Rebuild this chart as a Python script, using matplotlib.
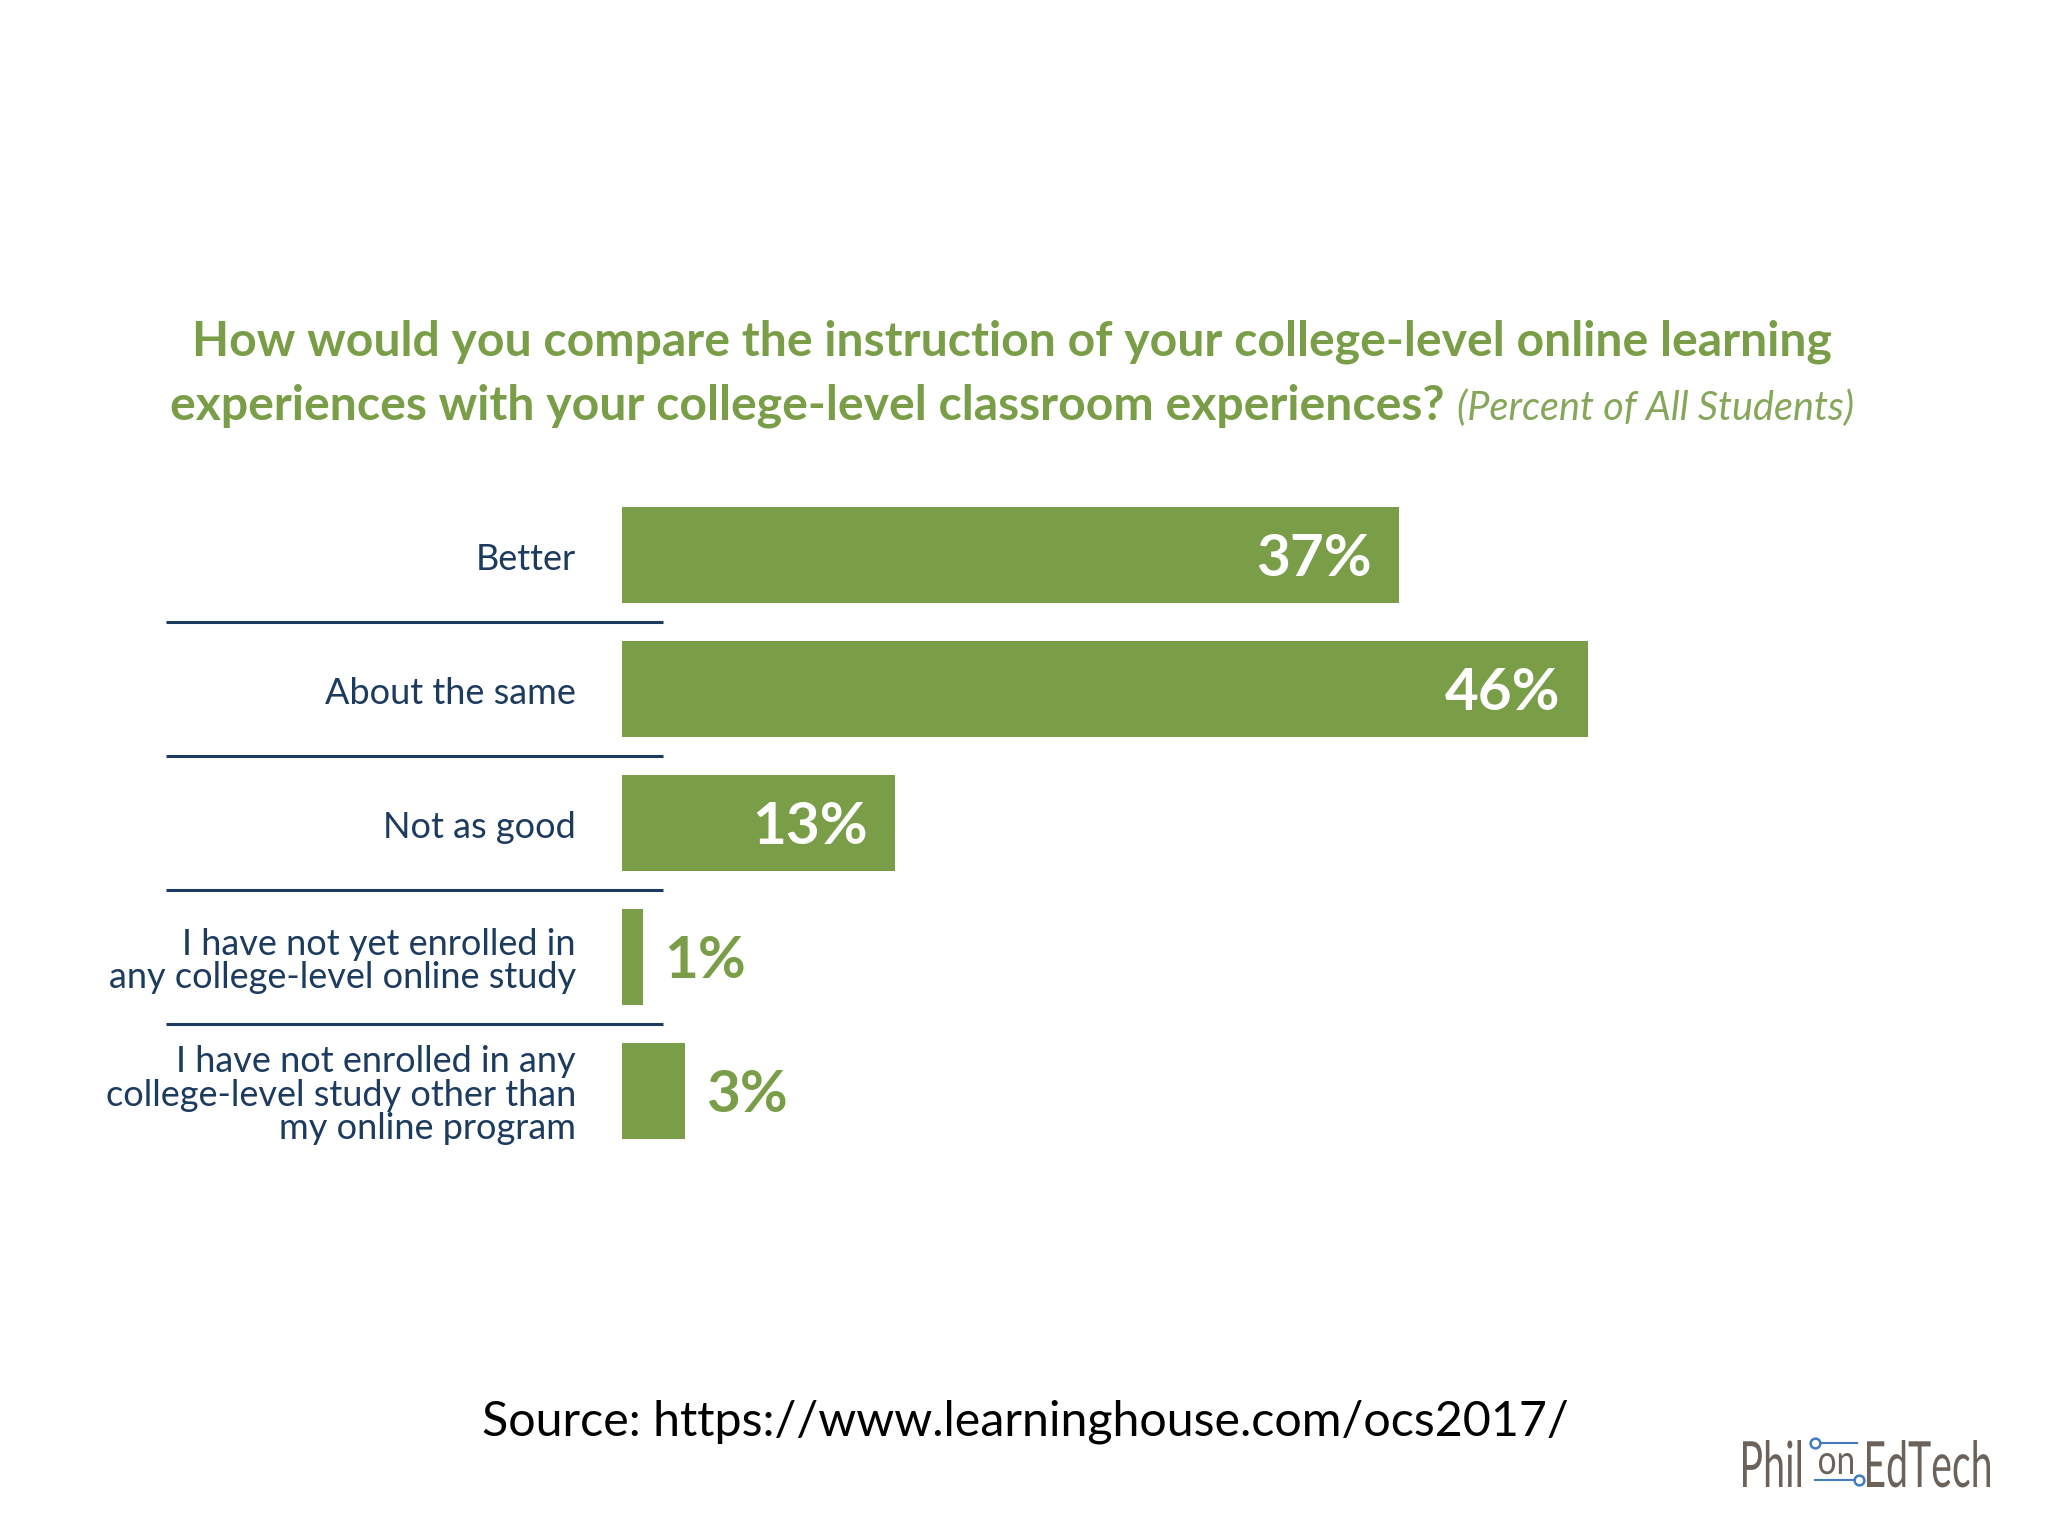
import matplotlib.pyplot as plt
from matplotlib.lines import Line2D
from matplotlib.textpath import TextPath
from matplotlib.patches import PathPatch
from matplotlib.font_manager import FontProperties
from matplotlib.transforms import Affine2D, IdentityTransform

## DATA ##
categories = [
    "Better",
    "About the same",
    "Not as good",
    "I have not yet enrolled in\nany college-level online study",
    "I have not enrolled in any\ncollege-level study other than\nmy online program",
]
values = [37, 46, 13, 1, 3]
value_labels = ["37%", "46%", "13%", "1%", "3%"]

title_line1 = "How would you compare the instruction of your college-level online learning"
title_line2 = "experiences with your college-level classroom experiences?"
title_note = "(Percent of All Students)"
source_text = "Source: https://www.learninghouse.com/ocs2017/"

GREEN = "#7a9e47"
NAVY = "#1c3b5e"
W, H = 2048, 1536

plt.rcParams['font.family'] = ['Lato', 'DejaVu Sans']

fig = plt.figure(figsize=(W / 100, H / 100), dpi=100)
fig.patch.set_facecolor("white")


def fx(px):
    return px / W


def fy(py):
    return 1 - py / H


# axes: x in percent (21 px per %), y = category index (134 px spacing)
ax = fig.add_axes([fx(622), fy(1158), 1050 / W, 670 / H])
ax.set_xlim(0, 50)
ax.set_ylim(4.5, -0.5)
ax.axis("off")

ypos = list(range(len(categories)))
ax.barh(ypos, values, height=0.71, color=GREEN)

for i, (v, lab) in enumerate(zip(values, value_labels)):
    if v >= 10:
        ax.text(v - 1.3, i + 0.03, lab, ha="right", va="center", color="white",
                fontsize=42, fontweight="bold")
    else:
        ax.text(v + 1.0, i + 0.03, lab, ha="left", va="center", color=GREEN,
                fontsize=42, fontweight="bold")
    ax.text(-2.2, i + 0.03, categories[i], ha="right", va="center", color=NAVY,
            fontsize=26, linespacing=1.03, clip_on=False)

# separators
for i in range(len(categories) - 1):
    ax.plot([-21.7, 1.95], [i + 0.5, i + 0.5], color=NAVY, lw=2.2,
            clip_on=False, solid_capstyle="butt")

# title
fig.text(fx(1012), fy(342), title_line1, ha="center", va="center",
         color=GREEN, fontsize=34.7, fontweight="bold")
fig.canvas.draw()
r = fig.canvas.get_renderer()
t2 = fig.text(0, fy(406), title_line2, ha="left", va="center",
              color=GREEN, fontsize=34.7, fontweight="bold")
t3 = fig.text(0, fy(408), title_note, ha="left", va="center",
              color="#86a65a", fontsize=28.5, style="italic")
w2 = t2.get_window_extent(r).width
w3 = t3.get_window_extent(r).width
gap = 12
start = 1012 - (w2 + gap + w3) / 2
t2.set_x(fx(start))
t3.set_x(fx(start + w2 + gap))

# source
fig.text(fx(1025), fy(1422), source_text, ha="center", va="center",
         color="black", fontsize=34.8)

# logo (condensed text drawn as squeezed paths, pixel coords)
LOGO = "#6b635b"
BLUE = "#3f7cc0"
logo_font = FontProperties(family="Lato")


def squeezed(text, x0, x1, base, top):
    path = TextPath((0, 0), text, size=1, prop=logo_font)
    bb = path.get_extents()
    sx = (x1 - x0) / bb.width
    sy = (base - top) / bb.y1
    tr = Affine2D().translate(-bb.x0, 0).scale(sx, sy).translate(x0, H - base)
    fig.add_artist(PathPatch(tr.transform_path(path), facecolor=LOGO,
                             edgecolor="none", transform=IdentityTransform()))


squeezed("Phil", 1743, 1801, 1487, 1440)
squeezed("on", 1819, 1853, 1474, 1453)
squeezed("EdTech", 1867, 1990, 1487, 1440)

fig.add_artist(Line2D([fx(1815), fx(1857)], [fy(1443), fy(1443)],
                      transform=fig.transFigure, color=BLUE, lw=1.5))
fig.add_artist(Line2D([fx(1815), fx(1859)], [fy(1480), fy(1480)],
                      transform=fig.transFigure, color=BLUE, lw=1.5))
fig.add_artist(Line2D([fx(1815)], [fy(1443)], transform=fig.transFigure,
                      marker="o", ms=7, mfc="white", mec=BLUE, mew=1.8, lw=0))
fig.add_artist(Line2D([fx(1859)], [fy(1480)], transform=fig.transFigure,
                      marker="o", ms=7, mfc="white", mec=BLUE, mew=1.8, lw=0))

fig.savefig("out.png", dpi=100)
